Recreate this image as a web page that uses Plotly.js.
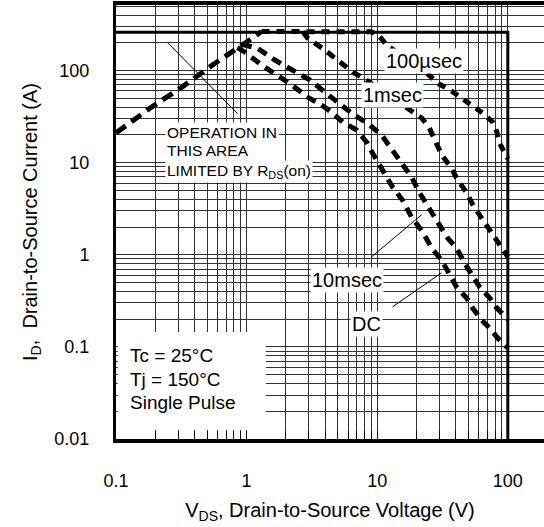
<!DOCTYPE html>
<html>
<head>
<meta charset="utf-8">
<script src="https://cdn.plot.ly/plotly-3.0.1.min.js"></script>
<style>html,body{margin:0;padding:0;background:#fff;}#chart{width:544px;height:527px;}</style>
</head>
<body>
<div id="chart"></div>
<script>
// ---- data (V in volts, I in amps) ----
const xTickVals = [0.1, 1, 10, 100];
const xTickLabels = ["0.1", "1", "10", "100"];
const yTickVals = [0.01, 0.1, 1, 10, 100];
const yTickLabels = ["0.01", "0.1", "1", "10", "100"];

const rdsV = [0.1, 0.182, 0.32, 0.573, 1.0, 1.3];
const rdsI = [21, 39, 66, 120, 204, 265];

const us100V = [1.3, 9.0, 10.3, 11.8, 23.9, 29, 37, 42.8, 52.8, 64, 76.5, 82, 87, 95, 100];
const us100I = [265, 263, 240, 189, 94, 73, 60, 51.5, 42, 34.6, 27.6, 22, 16, 12.3, 11];

const ms1V = [2.7, 2.93, 3.96, 5.34, 6.5, 8.0, 16.8, 21.9, 25, 27.5, 31, 37, 41, 48, 54, 63, 72.6, 82, 91, 100];
const ms1I = [263, 225, 167, 121, 96, 81, 39, 30.5, 24, 17.5, 12.3, 8.7, 6.6, 4.8, 3.5, 2.5, 1.85, 1.5, 1.15, 0.95];

const ms10V = [0.92, 1.21, 1.64, 2.25, 3.04, 3.82, 4.72, 5.93, 7.08, 8.75, 10.8, 12.5, 14.8, 18.3, 21.1, 25.2, 30, 34.6, 40.5, 46.7, 52.8, 60.8, 72.6, 82, 100];
const ms10I = [192, 175, 130, 101, 79, 61, 47.8, 37.2, 31.3, 25.6, 19.9, 14.8, 10.2, 7.0, 4.7, 3.2, 2.1, 1.52, 1.18, 0.81, 0.6, 0.446, 0.34, 0.265, 0.2];

const dcV = [0.85, 0.965, 1.30, 1.70, 2.21, 2.93, 3.75, 4.55, 5.43, 6.95, 8.3, 9.2, 11.0, 13.1, 15.6, 18.3, 22.3, 26.1, 31.1, 35.8, 40.5, 48.4, 53.8, 63.1, 72.6, 83.6, 100];
const dcI = [177, 159, 115, 89, 70, 51.5, 42.2, 34.6, 27.6, 22.6, 16.7, 12.7, 8.3, 5.43, 3.93, 2.57, 1.76, 1.18, 0.875, 0.6, 0.446, 0.339, 0.264, 0.195, 0.16, 0.125, 0.097];

const limitV = [0.1, 100, 100];
const limitI = [260, 260, 0.01];

// callout leader lines
const rdsLeadV = [0.248, 0.853];
const rdsLeadI = [201, 34];
const ms10LeadV = [9.06, 21.9];
const ms10LeadI = [0.95, 2.72];
const dcLeadV = [13.1, 31.1];
const dcLeadI = [0.272, 0.637];

// ---- minor grid positions (2..9 per decade) ----
function minorVals(lo, hi) {
  const v = [];
  for (let e = lo; e <= hi; e++) {
    for (let m = 2; m <= 9; m++) v.push(m * Math.pow(10, e));
  }
  return v;
}
const xMinor = minorVals(-1, 2);
const yMinor = minorVals(-2, 2);

const FONT = "Liberation Sans, Arial, Helvetica, sans-serif";

function curve(x, y, dash, w) {
  return {x: x, y: y, mode: "lines", type: "scatter", hoverinfo: "skip",
          line: {color: "#000", width: w, dash: dash}};
}

const traces = [
  curve(limitV, limitI, "solid", 3),
  curve(rdsLeadV, rdsLeadI, "solid", 1),
  curve(ms10LeadV, ms10LeadI, "solid", 1),
  curve(dcLeadV, dcLeadI, "solid", 1),
  curve(rdsV, rdsI, "12px,7px", 5),
  curve(us100V, us100I, "8px,7px", 5),
  curve(ms1V, ms1I, "9px,7px", 5),
  curve(ms10V, ms10I, "10px,7px", 5),
  curve(dcV, dcI, "10px,7px", 5)
];

function lab(text, lx, ly, size, xanchor) {
  return {text: text, x: lx, y: ly, xref: "x", yref: "y", showarrow: false,
          xanchor: xanchor || "center", yanchor: "middle", bgcolor: "#fff", borderpad: 1,
          font: {family: FONT, size: size, color: "#000"}};
}
function plain(text, lx, ly, size) {
  return {text: text, x: lx, y: ly, xref: "x", yref: "y", showarrow: false,
          xanchor: "left", yanchor: "middle",
          font: {family: FONT, size: size, color: "#000"}};
}

const annotations = [
  lab("100µsec", 1.355, 2.103, 20),
  lab("1msec", 1.118, 1.734, 20),
  lab("10msec", 0.766, -0.275, 20),
  lab("DC", 0.919, -0.752, 20),
  lab("OPERATION IN", -0.628, 1.332, 15.5, "left"),
  lab("THIS AREA", -0.628, 1.137, 15.5, "left"),
  lab("LIMITED BY R<sub>DS</sub>(on)", -0.628, 0.905, 15.5, "left"),
  plain("Tc = 25°C", -0.911, -1.09, 19),
  plain("Tj = 150°C", -0.911, -1.35, 19),
  plain("Single Pulse", -0.911, -1.60, 19)
];

const layout = {
  width: 544, height: 527,
  margin: {l: 116, r: 0, t: 5, b: 88},
  paper_bgcolor: "#fff", plot_bgcolor: "#fff",
  showlegend: false,
  font: {family: FONT, size: 18, color: "#000"},
  xaxis: {
    type: "log", range: [-1, 2.277], fixedrange: true,
    tickmode: "array", tickvals: xTickVals, ticktext: xTickLabels,
    ticks: "inside", ticklen: 8, tickcolor: "#000", tickwidth: 1,
    ticklabelstandoff: 22,
    showgrid: true, gridcolor: "#333", gridwidth: 1,
    minor: {tickmode: "array", tickvals: xMinor, showgrid: true, gridcolor: "#333", gridwidth: 1,
            ticks: "inside", ticklen: 8, tickcolor: "#000", tickwidth: 1},
    showline: true, linecolor: "#000", linewidth: 4, mirror: true,
    zeroline: false,
    tickfont: {family: FONT, size: 18, color: "#000"},
    title: {text: "V<sub>DS</sub>, Drain-to-Source Voltage (V)", standoff: 14,
            font: {family: FONT, size: 20, color: "#000"}}
  },
  yaxis: {
    type: "log", range: [-2, 2.711], fixedrange: true,
    tickmode: "array", tickvals: yTickVals, ticktext: yTickLabels,
    ticks: "", ticklabelstandoff: 20,
    showgrid: true, gridcolor: "#333", gridwidth: 1,
    minor: {tickmode: "array", tickvals: yMinor, showgrid: true, gridcolor: "#333", gridwidth: 1, ticks: ""},
    showline: true, linecolor: "#000", linewidth: 3, mirror: false,
    zeroline: false,
    tickfont: {family: FONT, size: 18, color: "#000"},
    title: {text: "I<sub>D</sub>,  Drain-to-Source Current (A)", standoff: 12,
            font: {family: FONT, size: 20, color: "#000"}}
  },
  shapes: [
    {type: "rect", xref: "paper", yref: "paper", x0: 0.004, x1: 0.350, y0: 0.021, y1: 0.2465,
     fillcolor: "#fff", line: {width: 0}, layer: "above"}
  ],
  annotations: annotations
};

Plotly.newPlot("chart", traces, layout, {displayModeBar: false, staticPlot: true});
</script>
</body>
</html>
